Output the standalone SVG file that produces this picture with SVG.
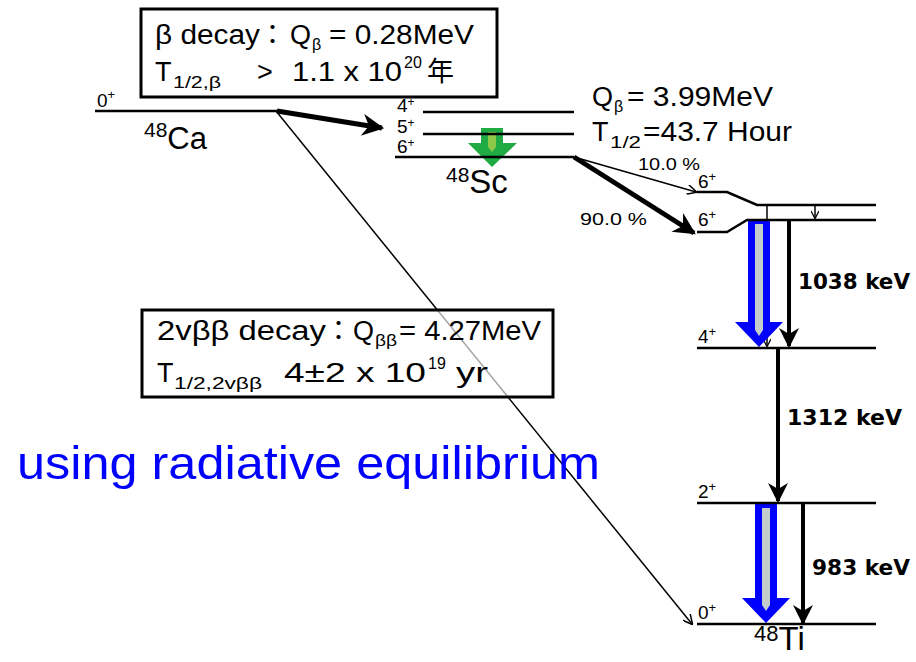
<svg xmlns="http://www.w3.org/2000/svg" width="916" height="662" viewBox="0 0 916 662">
<style>
text{font-family:"Liberation Sans","Noto Sans CJK JP",sans-serif;fill:#000}
.lv{stroke:#000;stroke-width:2.5;fill:none}
.box{fill:#fff;fill-opacity:0.65;stroke:#000;stroke-width:3}
.t26{font-size:27px}
.sub{font-size:16px}
.sp{font-size:19px}
.lab{font-size:22px;font-weight:bold;font-family:"DejaVu Sans",sans-serif}
.pct{font-size:17px}
</style>
<defs>
<marker id="open" viewBox="0 0 10 10" refX="9" refY="5" markerWidth="10" markerHeight="10" markerUnits="userSpaceOnUse" orient="auto">
<path d="M0,0 L10,5 L0,10" fill="none" stroke="#000" stroke-width="1.5"/>
</marker>
<marker id="openS" viewBox="0 0 10 10" refX="9" refY="5" markerWidth="8" markerHeight="8" markerUnits="userSpaceOnUse" orient="auto">
<path d="M0,0 L10,5 L0,10" fill="none" stroke="#000" stroke-width="1.5"/>
</marker>
<marker id="fat" viewBox="0 0 10 10" refX="9" refY="5" markerWidth="24" markerHeight="22" markerUnits="userSpaceOnUse" orient="auto">
<path d="M0,0 L10,5 L0,10 L3,5 Z" fill="#000"/>
</marker>
<marker id="vhead" viewBox="0 0 10 10" refX="9" refY="5" markerWidth="22" markerHeight="20" markerUnits="userSpaceOnUse" orient="auto">
<path d="M0,0 L10,5 L0,10 L3,5 Z" fill="#000"/>
</marker>
</defs>

<g id="connectors">
<line x1="276" y1="111" x2="692" y2="624" stroke="#000" stroke-width="1.5" marker-end="url(#open)"/>
<line x1="277" y1="111" x2="382" y2="128" stroke="#000" stroke-width="5" marker-end="url(#fat)"/>
<line x1="574" y1="157" x2="696" y2="192" stroke="#000" stroke-width="1.5" marker-end="url(#open)"/>
<line x1="574" y1="157" x2="694" y2="233" stroke="#000" stroke-width="5" marker-end="url(#fat)"/>
<line x1="767" y1="204" x2="767" y2="346" stroke="#000" stroke-width="1.5" marker-end="url(#openS)"/>
<line x1="815" y1="205" x2="815" y2="218" stroke="#000" stroke-width="1.5" marker-end="url(#openS)"/>
<line x1="789" y1="221" x2="789" y2="346" stroke="#000" stroke-width="4" marker-end="url(#vhead)"/>
<line x1="778" y1="349" x2="778" y2="501" stroke="#000" stroke-width="4" marker-end="url(#vhead)"/>
<line x1="803" y1="504" x2="803" y2="623" stroke="#000" stroke-width="4" marker-end="url(#vhead)"/>
<g id="blue1">
<polygon points="748,219 770,219 770,322 783,322 759,347 735,322 748,322" fill="#0000ff"/>
<polygon points="755,224 763,224 763,330 759,336 755,330" fill="#c4cccc"/>
</g>
<g id="blue2">
<polygon points="755,502 777,502 777,598 790,598 766,623 742,598 755,598" fill="#0000ff"/>
<polygon points="762,508 770,508 770,605 766,611 762,605" fill="#c4cccc"/>
</g>
<g id="green">
<polygon points="481,128 503,128 503,143 517,143 492,167 468,143 481,143" fill="#1faa44"/>
<polygon points="488,132 496,132 496,147 492,152 488,147" fill="#8cc84a"/>
</g>
</g>

<g id="box-beta">
<rect class="box" x="141" y="9" width="356" height="88"/>
<text class="t26" x="155" y="44" textLength="105" lengthAdjust="spacingAndGlyphs">β decay</text>
<text class="t26" x="259" y="44">：</text>
<text class="t26" x="290" y="44">Q</text>
<text class="sub" x="312" y="50">β</text>
<text class="t26" x="329" y="44" textLength="145" lengthAdjust="spacingAndGlyphs">= 0.28MeV</text>
<text class="t26" x="155" y="81">T</text>
<text class="sub" x="173" y="88" textLength="48" lengthAdjust="spacingAndGlyphs">1/2,β</text>
<text class="t26" x="257" y="81">&gt;</text>
<text class="t26" x="292" y="81" textLength="110" lengthAdjust="spacingAndGlyphs">1.1 x 10</text>
<text class="sub" x="404" y="68" font-size="18">20</text>
<text class="t26" x="427" y="81" font-size="26">年</text>
</g>

<g id="box-2vbb">
<rect class="box" x="142" y="310" width="411" height="87"/>
<text class="t26" x="157" y="340" textLength="169" lengthAdjust="spacingAndGlyphs">2vββ decay</text>
<text class="t26" x="325" y="340">：</text>
<text class="t26" x="353" y="340">Q</text>
<text class="sub" x="375" y="346" textLength="22" lengthAdjust="spacingAndGlyphs">ββ</text>
<text class="t26" x="399" y="340" textLength="142" lengthAdjust="spacingAndGlyphs">= 4.27MeV</text>
<text class="t26" x="157" y="382">T</text>
<text class="sub" x="174" y="389" textLength="88" lengthAdjust="spacingAndGlyphs">1/2,2vββ</text>
<text class="t26" x="284" y="382" textLength="142" lengthAdjust="spacingAndGlyphs">4±2 x 10</text>
<text class="sub" x="428" y="369" font-size="18">19</text>
<text class="t26" x="456" y="382" textLength="32" lengthAdjust="spacingAndGlyphs">yr</text>
</g>

<g id="ca48">
<line class="lv" x1="95" y1="111" x2="277" y2="111"/>
<text class="sp" x="97" y="107" font-size="21">0<tspan font-size="13" dy="-8">+</tspan></text>
<text x="144" y="149"><tspan font-size="21" dy="-12">48</tspan><tspan font-size="31" dy="12">Ca</tspan></text>
</g>

<g id="sc48">
<line class="lv" x1="423" y1="112" x2="574" y2="112"/>
<line class="lv" x1="423" y1="134" x2="574" y2="134"/>
<line class="lv" x1="395" y1="157" x2="574" y2="157"/>
<text class="sp" x="397" y="112">4<tspan font-size="12" dy="-6">+</tspan></text>
<text class="sp" x="397" y="133">5<tspan font-size="12" dy="-6">+</tspan></text>
<text class="sp" x="397" y="153">6<tspan font-size="12" dy="-6">+</tspan></text>
<text x="446" y="193"><tspan font-size="21" dy="-11">48</tspan><tspan font-size="33" dy="11">Sc</tspan></text>
<text class="t26" x="592" y="106">Q</text>
<text class="sub" x="614" y="112">β</text>
<text class="t26" x="627" y="106" textLength="146" lengthAdjust="spacingAndGlyphs">= 3.99MeV</text>
<text class="t26" x="592" y="141">T</text>
<text class="sub" x="610" y="148" textLength="31" lengthAdjust="spacingAndGlyphs">1/2</text>
<text class="t26" x="643" y="141" textLength="149" lengthAdjust="spacingAndGlyphs">=43.7 Hour</text>
<text class="pct" x="638" y="170" textLength="62" lengthAdjust="spacingAndGlyphs">10.0 %</text>
<text class="pct" x="580" y="225" textLength="67" lengthAdjust="spacingAndGlyphs">90.0 %</text>
</g>

<g id="ti48">
<polyline class="lv" points="697,192 727,192 757,205 876,205"/>
<polyline class="lv" points="697,232 727,232 747,220 876,220"/>
<line class="lv" x1="697" y1="348" x2="876" y2="348"/>
<line class="lv" x1="697" y1="503" x2="876" y2="503"/>
<line class="lv" x1="697" y1="624" x2="876" y2="624"/>
<text class="sp" x="698" y="188" font-size="21">6<tspan font-size="13" dy="-7">+</tspan></text>
<text class="sp" x="698" y="226" font-size="21">6<tspan font-size="13" dy="-7">+</tspan></text>
<text class="sp" x="698" y="343" font-size="21">4<tspan font-size="13" dy="-7">+</tspan></text>
<text class="sp" x="698" y="498" font-size="21">2<tspan font-size="13" dy="-7">+</tspan></text>
<text class="sp" x="698" y="619" font-size="21">0<tspan font-size="13" dy="-7">+</tspan></text>
<text x="754" y="650"><tspan font-size="22" dy="-9">48</tspan><tspan font-size="33" dy="9">Ti</tspan></text>
<text class="lab" x="798" y="289" textLength="112" lengthAdjust="spacingAndGlyphs">1038 keV</text>
<text class="lab" x="787" y="425" textLength="115" lengthAdjust="spacingAndGlyphs">1312 keV</text>
<text class="lab" x="812" y="575" textLength="98" lengthAdjust="spacingAndGlyphs">983 keV</text>
</g>

<text x="17" y="479" font-size="46" style="fill:#0000ff" textLength="583" lengthAdjust="spacingAndGlyphs">using radiative equilibrium</text>
</svg>
